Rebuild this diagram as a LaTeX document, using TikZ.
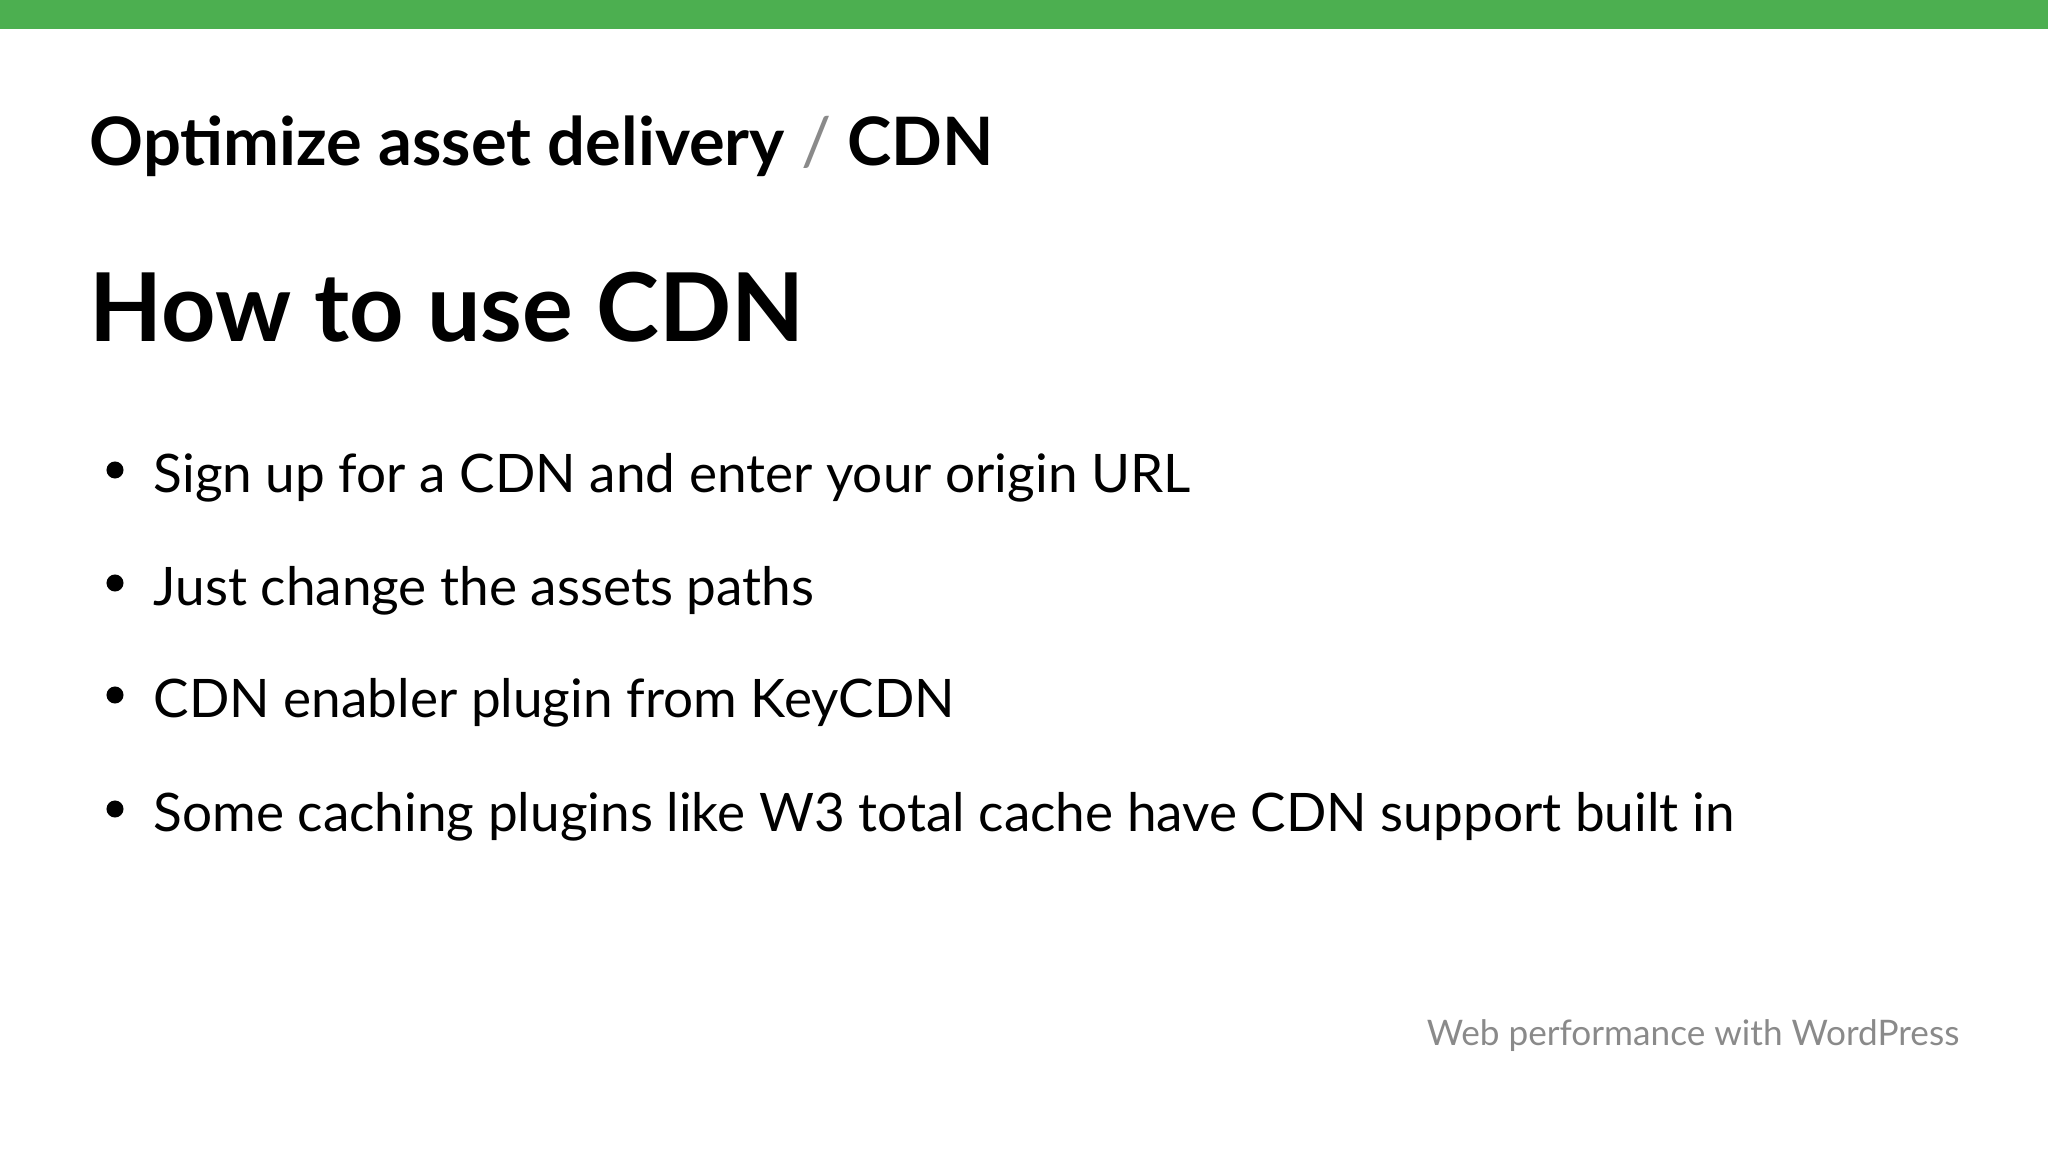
\documentclass[tikz,border=0pt]{standalone}
\usepackage{fontspec}
\setmainfont{Lato}
\definecolor{topgreen}{HTML}{4CAF50}
\definecolor{footgray}{HTML}{8A8A8A}
\begin{document}
\begin{tikzpicture}[x=0.01cm,y=-0.01cm,
  txt/.style={anchor=base west,inner sep=0pt},
  bul/.style={txt,font=\fontsize{15.1}{18}\selectfont}]
\useasboundingbox (0,0) rectangle (2048,1152);
\fill[white] (0,0) rectangle (2048,1152);
\fill[topgreen] (0,0) rectangle (2048,29);
\node[txt,font=\fontsize{19}{23}\selectfont\bfseries] (title) at (89,166) {Optimize asset delivery \textcolor{footgray}{\mdseries/} CDN};
\node[txt,font=\fontsize{27}{32}\selectfont\bfseries] (head) at (89,342) {How to use CDN};
\foreach \y/\t [count=\i] in {492/Sign up for a CDN and enter your origin URL,
  605/Just change the assets paths,
  717/CDN enabler plugin from KeyCDN,
  831/Some caching plugins like W3 total cache have CDN support built in}{
  \fill (115,\y-22) circle [radius=0.085cm];
  \node[bul] (b\i) at (153,\y) {\t};
}
\node[anchor=base east,inner sep=0pt,text=footgray,font=\fontsize{10}{12}\selectfont] (foot) at (1960,1045) {Web performance with WordPress};
\end{tikzpicture}
\end{document}
